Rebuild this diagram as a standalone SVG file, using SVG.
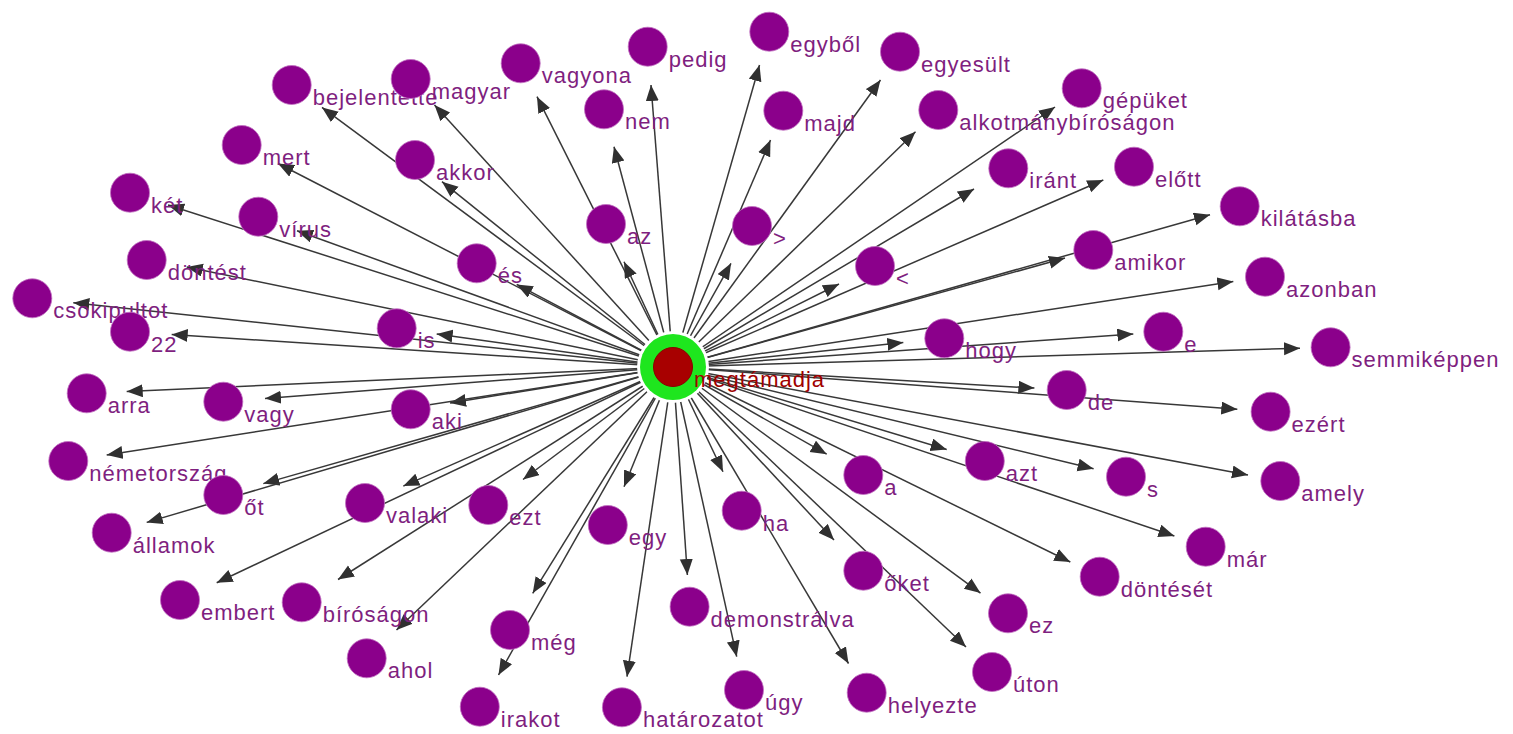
<svg xmlns="http://www.w3.org/2000/svg" width="1513" height="734" viewBox="0 0 1513 734">
<style>
.e{stroke:#383838;stroke-width:1.5;fill:none;marker-end:url(#arr)}
.n circle{fill:#8B008B;stroke:#c070c0;stroke-width:0.8}
.n text{font-family:"Liberation Sans",Arial,sans-serif;font-size:22px;letter-spacing:1px;fill:#7f1f7f}
</style>
<defs>
<marker id="arr" markerUnits="userSpaceOnUse" markerWidth="17" markerHeight="14" refX="16" refY="6.5" orient="auto" viewBox="0 0 17 14">
<path d="M0,0 L16,6.5 L0,13 Z" fill="#303030"/>
</marker>
</defs>
<rect width="1513" height="734" fill="#fff"/>
<g id="connectors">
<line class="e" x1="673" y1="367" x2="322" y2="107.4"/>
<line class="e" x1="673" y1="367" x2="434.5" y2="105"/>
<line class="e" x1="673" y1="367" x2="537" y2="96.7"/>
<line class="e" x1="673" y1="367" x2="651" y2="85"/>
<line class="e" x1="673" y1="367" x2="759.5" y2="65"/>
<line class="e" x1="673" y1="367" x2="880.5" y2="80"/>
<line class="e" x1="673" y1="367" x2="1055" y2="107"/>
<line class="e" x1="673" y1="367" x2="614" y2="146.7"/>
<line class="e" x1="673" y1="367" x2="770.5" y2="140"/>
<line class="e" x1="673" y1="367" x2="915.5" y2="131.7"/>
<line class="e" x1="673" y1="367" x2="278" y2="163.5"/>
<line class="e" x1="673" y1="367" x2="442" y2="181.7"/>
<line class="e" x1="673" y1="367" x2="168" y2="205"/>
<line class="e" x1="673" y1="367" x2="297" y2="230.7"/>
<line class="e" x1="673" y1="367" x2="974" y2="189"/>
<line class="e" x1="673" y1="367" x2="1103.3" y2="180"/>
<line class="e" x1="673" y1="367" x2="1210" y2="214.7"/>
<line class="e" x1="673" y1="367" x2="624" y2="261.7"/>
<line class="e" x1="673" y1="367" x2="731" y2="263.3"/>
<line class="e" x1="673" y1="367" x2="516.7" y2="284.4"/>
<line class="e" x1="673" y1="367" x2="839" y2="284"/>
<line class="e" x1="673" y1="367" x2="1065" y2="258"/>
<line class="e" x1="673" y1="367" x2="1233.3" y2="281.5"/>
<line class="e" x1="673" y1="367" x2="186.7" y2="267"/>
<line class="e" x1="673" y1="367" x2="73.3" y2="302.7"/>
<line class="e" x1="673" y1="367" x2="171.7" y2="334.4"/>
<line class="e" x1="673" y1="367" x2="436.7" y2="333.9"/>
<line class="e" x1="673" y1="367" x2="903.3" y2="342.6"/>
<line class="e" x1="673" y1="367" x2="1133.3" y2="333.9"/>
<line class="e" x1="673" y1="367" x2="1300" y2="348.2"/>
<line class="e" x1="673" y1="367" x2="126.7" y2="391.5"/>
<line class="e" x1="673" y1="367" x2="265" y2="398.5"/>
<line class="e" x1="673" y1="367" x2="450" y2="403"/>
<line class="e" x1="673" y1="367" x2="1034.4" y2="388.1"/>
<line class="e" x1="673" y1="367" x2="1237.3" y2="409.2"/>
<line class="e" x1="673" y1="367" x2="106.7" y2="455"/>
<line class="e" x1="673" y1="367" x2="263.3" y2="483.6"/>
<line class="e" x1="673" y1="367" x2="403.3" y2="486.1"/>
<line class="e" x1="673" y1="367" x2="523" y2="479.5"/>
<line class="e" x1="673" y1="367" x2="624" y2="486.7"/>
<line class="e" x1="673" y1="367" x2="723" y2="471.7"/>
<line class="e" x1="673" y1="367" x2="826.7" y2="454.2"/>
<line class="e" x1="673" y1="367" x2="946.7" y2="449.5"/>
<line class="e" x1="673" y1="367" x2="1093.6" y2="468.8"/>
<line class="e" x1="673" y1="367" x2="1248" y2="474.9"/>
<line class="e" x1="673" y1="367" x2="146.7" y2="522.4"/>
<line class="e" x1="673" y1="367" x2="216.7" y2="582.7"/>
<line class="e" x1="673" y1="367" x2="338" y2="579.5"/>
<line class="e" x1="673" y1="367" x2="396.5" y2="630"/>
<line class="e" x1="673" y1="367" x2="532.7" y2="593.3"/>
<line class="e" x1="673" y1="367" x2="498.5" y2="675"/>
<line class="e" x1="673" y1="367" x2="627" y2="676.7"/>
<line class="e" x1="673" y1="367" x2="687.4" y2="575"/>
<line class="e" x1="673" y1="367" x2="736.7" y2="656.7"/>
<line class="e" x1="673" y1="367" x2="848.5" y2="663.5"/>
<line class="e" x1="673" y1="367" x2="834" y2="540"/>
<line class="e" x1="673" y1="367" x2="980.5" y2="593.1"/>
<line class="e" x1="673" y1="367" x2="966" y2="647"/>
<line class="e" x1="673" y1="367" x2="1070.3" y2="562"/>
<line class="e" x1="673" y1="367" x2="1174.4" y2="536"/>
</g>
<g id="n-bejelentette" class="n"><circle cx="291.7" cy="85" r="19.5"/><text x="312.7" y="105">bejelentette</text></g>
<g id="n-magyar" class="n"><circle cx="410.7" cy="79" r="19.5"/><text x="431.7" y="99">magyar</text></g>
<g id="n-vagyona" class="n"><circle cx="520.7" cy="63.3" r="19.5"/><text x="541.7" y="83.3">vagyona</text></g>
<g id="n-pedig" class="n"><circle cx="647.7" cy="46.7" r="19.5"/><text x="668.7" y="66.7">pedig</text></g>
<g id="n-egybol" class="n"><circle cx="769.3" cy="31.7" r="19.5"/><text x="790.3" y="51.7">egyből</text></g>
<g id="n-egyesult" class="n"><circle cx="900" cy="51.7" r="19.5"/><text x="921" y="71.7">egyesült</text></g>
<g id="n-gepuket" class="n"><circle cx="1081.7" cy="88.3" r="19.5"/><text x="1102.7" y="108.3">gépüket</text></g>
<g id="n-nem" class="n"><circle cx="604" cy="109.3" r="19.5"/><text x="625" y="129.3">nem</text></g>
<g id="n-majd" class="n"><circle cx="783.3" cy="110.7" r="19.5"/><text x="804.3" y="130.7">majd</text></g>
<g id="n-alkotmanybirosagon" class="n"><circle cx="938.3" cy="110" r="19.5"/><text x="959.3" y="130">alkotmánybíróságon</text></g>
<g id="n-mert" class="n"><circle cx="241.7" cy="145" r="19.5"/><text x="262.7" y="165">mert</text></g>
<g id="n-akkor" class="n"><circle cx="415" cy="160" r="19.5"/><text x="436" y="180">akkor</text></g>
<g id="n-ket" class="n"><circle cx="130" cy="192.7" r="19.5"/><text x="151" y="212.7">két</text></g>
<g id="n-virus" class="n"><circle cx="258.3" cy="216.7" r="19.5"/><text x="279.3" y="236.7">vírus</text></g>
<g id="n-irant" class="n"><circle cx="1008.3" cy="168.3" r="19.5"/><text x="1029.3" y="188.3">iránt</text></g>
<g id="n-elott" class="n"><circle cx="1134" cy="166.7" r="19.5"/><text x="1155" y="186.7">előtt</text></g>
<g id="n-kilatasba" class="n"><circle cx="1239.7" cy="206.3" r="19.5"/><text x="1260.7" y="226.3">kilátásba</text></g>
<g id="n-az" class="n"><circle cx="606" cy="224" r="19.5"/><text x="627" y="244">az</text></g>
<g id="n-gt" class="n"><circle cx="752" cy="226" r="19.5"/><text x="773" y="246">&gt;</text></g>
<g id="n-es" class="n"><circle cx="476.7" cy="263.3" r="19.5"/><text x="497.7" y="283.3">és</text></g>
<g id="n-lt" class="n"><circle cx="875" cy="266" r="19.5"/><text x="896" y="286">&lt;</text></g>
<g id="n-amikor" class="n"><circle cx="1093.3" cy="250" r="19.5"/><text x="1114.3" y="270">amikor</text></g>
<g id="n-azonban" class="n"><circle cx="1265" cy="276.7" r="19.5"/><text x="1286" y="296.7">azonban</text></g>
<g id="n-dontest" class="n"><circle cx="146.7" cy="260" r="19.5"/><text x="167.7" y="280">döntést</text></g>
<g id="n-csokipultot" class="n"><circle cx="32.3" cy="298.3" r="19.5"/><text x="53.3" y="318.3">csokipultot</text></g>
<g id="n-22" class="n"><circle cx="130" cy="331.7" r="19.5"/><text x="151" y="351.7">22</text></g>
<g id="n-is" class="n"><circle cx="396.7" cy="328.3" r="19.5"/><text x="417.7" y="348.3">is</text></g>
<g id="n-hogy" class="n"><circle cx="944.3" cy="338.3" r="19.5"/><text x="965.3" y="358.3">hogy</text></g>
<g id="n-e" class="n"><circle cx="1163.3" cy="331.7" r="19.5"/><text x="1184.3" y="351.7">e</text></g>
<g id="n-semmikeppen" class="n"><circle cx="1330.6" cy="347.3" r="19.5"/><text x="1351.6" y="367.3">semmiképpen</text></g>
<g id="n-arra" class="n"><circle cx="86.7" cy="393.3" r="19.5"/><text x="107.7" y="413.3">arra</text></g>
<g id="n-vagy" class="n"><circle cx="223.3" cy="401.7" r="19.5"/><text x="244.3" y="421.7">vagy</text></g>
<g id="n-aki" class="n"><circle cx="410.7" cy="409.3" r="19.5"/><text x="431.7" y="429.3">aki</text></g>
<g id="n-de" class="n"><circle cx="1066.7" cy="390" r="19.5"/><text x="1087.7" y="410">de</text></g>
<g id="n-ezert" class="n"><circle cx="1270.6" cy="411.7" r="19.5"/><text x="1291.6" y="431.7">ezért</text></g>
<g id="n-nemetorszag" class="n"><circle cx="68.3" cy="461" r="19.5"/><text x="89.3" y="481">németország</text></g>
<g id="n-ot" class="n"><circle cx="223.3" cy="495" r="19.5"/><text x="244.3" y="515">őt</text></g>
<g id="n-valaki" class="n"><circle cx="365" cy="503" r="19.5"/><text x="386" y="523">valaki</text></g>
<g id="n-ezt" class="n"><circle cx="488.3" cy="505" r="19.5"/><text x="509.3" y="525">ezt</text></g>
<g id="n-egy" class="n"><circle cx="607.8" cy="525" r="19.5"/><text x="628.8" y="545">egy</text></g>
<g id="n-ha" class="n"><circle cx="741.7" cy="510.7" r="19.5"/><text x="762.7" y="530.7">ha</text></g>
<g id="n-a" class="n"><circle cx="863.3" cy="475" r="19.5"/><text x="884.3" y="495">a</text></g>
<g id="n-azt" class="n"><circle cx="984.8" cy="461" r="19.5"/><text x="1005.8" y="481">azt</text></g>
<g id="n-s" class="n"><circle cx="1126" cy="476.7" r="19.5"/><text x="1147" y="496.7">s</text></g>
<g id="n-amely" class="n"><circle cx="1280.3" cy="481" r="19.5"/><text x="1301.3" y="501">amely</text></g>
<g id="n-allamok" class="n"><circle cx="111.7" cy="532.7" r="19.5"/><text x="132.7" y="552.7">államok</text></g>
<g id="n-embert" class="n"><circle cx="180" cy="600" r="19.5"/><text x="201" y="620">embert</text></g>
<g id="n-birosagon" class="n"><circle cx="301.7" cy="602.3" r="19.5"/><text x="322.7" y="622.3">bíróságon</text></g>
<g id="n-ahol" class="n"><circle cx="366.7" cy="658.3" r="19.5"/><text x="387.7" y="678.3">ahol</text></g>
<g id="n-meg" class="n"><circle cx="510" cy="630" r="19.5"/><text x="531" y="650">még</text></g>
<g id="n-irakot" class="n"><circle cx="479.8" cy="706.7" r="19.5"/><text x="500.8" y="726.7">irakot</text></g>
<g id="n-hatarozatot" class="n"><circle cx="621.9" cy="707.3" r="19.5"/><text x="642.9" y="727.3">határozatot</text></g>
<g id="n-demonstralva" class="n"><circle cx="689.6" cy="606.7" r="19.5"/><text x="710.6" y="626.7">demonstrálva</text></g>
<g id="n-ugy" class="n"><circle cx="744" cy="690" r="19.5"/><text x="765" y="710">úgy</text></g>
<g id="n-helyezte" class="n"><circle cx="866.7" cy="692.7" r="19.5"/><text x="887.7" y="712.7">helyezte</text></g>
<g id="n-oket" class="n"><circle cx="863.3" cy="570.7" r="19.5"/><text x="884.3" y="590.7">őket</text></g>
<g id="n-ez" class="n"><circle cx="1008" cy="613.3" r="19.5"/><text x="1029" y="633.3">ez</text></g>
<g id="n-uton" class="n"><circle cx="992" cy="672" r="19.5"/><text x="1013" y="692">úton</text></g>
<g id="n-donteset" class="n"><circle cx="1099.7" cy="576.7" r="19.5"/><text x="1120.7" y="596.7">döntését</text></g>
<g id="n-mar" class="n"><circle cx="1205.7" cy="546.7" r="19.5"/><text x="1226.7" y="566.7">már</text></g>
<g id="n-megtamadja">
<circle cx="673" cy="367" r="36" fill="#ffffff"/>
<circle cx="673" cy="367" r="33" fill="#1ee61e"/>
<circle cx="673" cy="367" r="19.5" fill="#a80000" stroke="#8a0000" stroke-width="1"/>
<text x="694" y="387" font-family="Liberation Sans, Arial, sans-serif" font-size="22" letter-spacing="1" fill="#a00000">megtámadja</text>
</g>
</svg>
